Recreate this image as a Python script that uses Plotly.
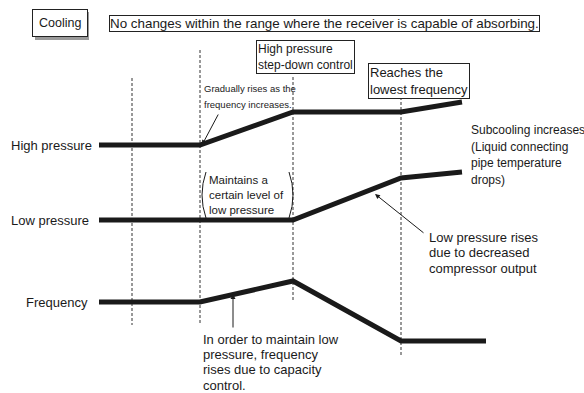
import plotly.graph_objects as go

# phase boundaries (time axis, drawn in the 584x393 frame)
t = [99, 200, 293, 401, 462]
t_freq = [99, 200, 293, 401, 486]

high_pressure = [145, 145, 112, 112, 102]
low_pressure = [220, 220, 220, 178, 172]
frequency = [302, 302, 281, 341, 341]

phase_lines = [132, 200, 293, 401]
phase_top = [78, 50, 77, 97]
phase_bottom = [325, 325, 300, 355]

row_labels = ["High pressure", "Low pressure", "Frequency"]

FONT = "Liberation Sans, Arial, sans-serif"
INK = "#1a1a1a"

fig = go.Figure()

# dashed phase separators
for x, y0, y1 in zip(phase_lines, phase_top, phase_bottom):
    fig.add_trace(go.Scatter(x=[x, x], y=[y0, y1], mode="lines",
                             line=dict(color="#333", width=1, dash="3px,2px"),
                             hoverinfo="skip"))

fig.add_trace(go.Scatter(x=t, y=high_pressure, mode="lines", name=row_labels[0],
                         line=dict(color=INK, width=5)))
fig.add_trace(go.Scatter(x=t, y=low_pressure, mode="lines", name=row_labels[1],
                         line=dict(color=INK, width=5)))
fig.add_trace(go.Scatter(x=t_freq, y=frequency, mode="lines", name=row_labels[2],
                         line=dict(color=INK, width=5)))

ann = []


def note(x, y, lines, step, size):
    # one annotation per line so the line spacing can follow the original
    for i, s in enumerate(lines):
        ann.append(dict(x=x, y=y + i * step, text=s, xanchor="left", yanchor="middle",
                        showarrow=False, font=dict(size=size, color=INK, family=FONT)))


# row labels on the left
for lab, x, y in zip(row_labels, [9, 9, 24], [high_pressure[0], low_pressure[0], frequency[0]]):
    ann.append(dict(x=x, y=y, text=lab, xanchor="left", yanchor="middle",
                    showarrow=False, font=dict(size=13, color=INK, family=FONT)))

# boxed headers
box = dict(showarrow=False, bordercolor="#222", borderwidth=1, bgcolor="white",
           xanchor="left", yanchor="top", align="left")
ann.append(dict(x=32, y=9, text="Cooling", borderpad=6,
                font=dict(size=12.5, color=INK, family=FONT), **box))
ann.append(dict(x=109, y=15, text="No changes within the range where the receiver is capable of absorbing.",
                borderpad=0, font=dict(size=13.4, color=INK, family=FONT), **box))
ann.append(dict(x=256, y=40, text="High pressure<br>step-down control", borderpad=1,
                font=dict(size=12, color=INK, family=FONT), **box))
ann.append(dict(x=368, y=63, text="Reaches the<br>lowest frequency", borderpad=1,
                font=dict(size=13, color=INK, family=FONT), **box))

# notes
note(202, 88, ["Gradually rises as the", "frequency increases."], 16, 9.5)
note(207, 180, ["Maintains a", "certain level of", "low pressure"], 15, 11.5)
note(469, 130, ["Subcooling increases", "(Liquid connecting", "pipe temperature", "drops)"], 16.7, 12)
note(427, 237, ["Low pressure rises", "due to decreased", "compressor output"], 15.5, 13)
note(201, 339, ["In order to maintain low", "pressure, frequency", "rises due to capacity", "control."], 15.4, 13)

# arrows pointing at the curves
ann.append(dict(x=202, y=145, ax=219, ay=113, axref="x", ayref="y", text="",
                showarrow=True, arrowhead=2, arrowsize=1, arrowwidth=1, arrowcolor=INK))
ann.append(dict(x=375, y=194, ax=425, ay=234, axref="x", ayref="y", text="",
                showarrow=True, arrowhead=2, arrowsize=1, arrowwidth=1, arrowcolor=INK))
ann.append(dict(x=233, y=294, ax=233, ay=329, axref="x", ayref="y", text="",
                showarrow=True, arrowhead=2, arrowsize=1, arrowwidth=1, arrowcolor=INK))

shapes = [
    # drop shadow behind the "Cooling" box
    dict(type="rect", x0=35, x1=89, y0=12, y1=40, fillcolor="#9a9a9a",
         line=dict(width=0), layer="below"),
    # parentheses around the "Maintains" note
    dict(type="path", path="M 206,172 Q 198,195 206,218", line=dict(color=INK, width=1)),
    dict(type="path", path="M 289,172 Q 297,195 289,218", line=dict(color=INK, width=1)),
]

fig.update_layout(
    width=584, height=393, margin=dict(l=0, r=0, t=0, b=0),
    paper_bgcolor="white", plot_bgcolor="rgba(0,0,0,0)", showlegend=False,
    xaxis=dict(range=[0, 584], visible=False, fixedrange=True),
    yaxis=dict(range=[393, 0], visible=False, fixedrange=True),
    annotations=ann, shapes=shapes,
)

fig.write_html("out.html", config={"displayModeBar": False},
               post_script="document.body.style.margin='0';")
